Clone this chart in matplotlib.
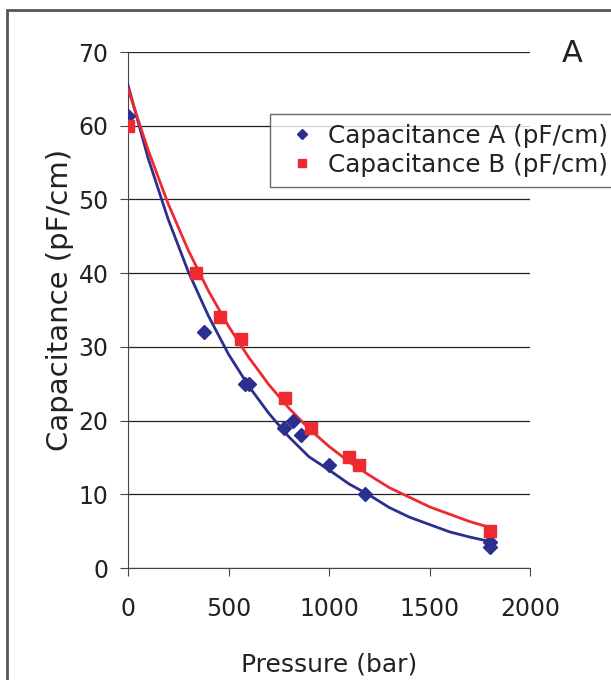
import matplotlib.pyplot as plt
from matplotlib.patches import Rectangle

# Measured points.
pressure_a = [0, 380, 580, 600, 775, 820, 860, 1000, 1180, 1800, 1800]
cap_a = [61.3, 32.0, 25.0, 25.0, 19.0, 20.0, 18.0, 14.0, 10.0, 3.5, 2.8]
pressure_b = [0, 340, 460, 560, 780, 910, 1100, 1150, 1800]
cap_b = [60.0, 40.0, 34.0, 31.0, 23.0, 19.0, 15.0, 14.0, 5.0]

# Trend lines.
fit_x = [0, 100, 200, 300, 400, 500, 600, 700, 800, 900,
         1000, 1100, 1200, 1300, 1400, 1500, 1600, 1700, 1800]
fit_a = [65.5, 55.6, 47.3, 40.2, 34.2, 29.0, 24.7, 21.0, 17.8, 15.1,
         13.3, 11.4, 9.9, 8.2, 6.9, 5.9, 4.9, 4.2, 3.6]
fit_b = [65.0, 56.7, 49.4, 43.1, 37.6, 32.8, 28.6, 24.9, 21.7, 18.9,
         16.5, 14.4, 12.6, 10.9, 9.6, 8.3, 7.3, 6.3, 5.5]

labels = ['Capacitance A (pF/cm)', 'Capacitance B (pF/cm)']
blue = '#2B2F8F'
red = '#ED2A2F'
text_col = '#222222'

fig = plt.figure(figsize=(6.11, 6.8), dpi=100)
ax = fig.add_axes([128/611, 1-568/680, (530-128)/611, (568-52)/680])

ax.plot(fit_x, fit_a, color=blue, lw=2.0, zorder=3)
ax.plot(fit_x, fit_b, color=red, lw=2.0, zorder=3)
ha, = ax.plot(pressure_a, cap_a, 'D', color=blue, ms=7, ls='none', zorder=4)
hb, = ax.plot(pressure_b, cap_b, 's', color=red, ms=8, ls='none', zorder=4)

ax.set_xlim(0, 2000)
ax.set_ylim(0, 70)
ax.set_xticks([0, 500, 1000, 1500, 2000])
ax.set_yticks(range(0, 71, 10))
ax.yaxis.grid(True, color='#222222', lw=0.9)
ax.set_axisbelow(True)
for s in ('top', 'right'):
    ax.spines[s].set_visible(False)
for s in ('left', 'bottom'):
    ax.spines[s].set_color('#444444')
ax.tick_params(direction='out', length=6, color='#444444', labelsize=17,
               labelcolor=text_col)
ax.tick_params(axis='x', pad=15)
ax.tick_params(axis='y', pad=8)
ax.set_xlabel('Pressure (bar)', fontsize=18, color=text_col)
ax.set_ylabel('Capacitance (pF/cm)', fontsize=21, color=text_col)
ax.xaxis.set_label_coords(0.5, -0.163)
ax.yaxis.set_label_coords(-0.135, 0.52)

leg = fig.legend([ha, hb], labels, loc='upper left', bbox_to_anchor=(270/611, 1-114/680),
                 fontsize=17.7, frameon=True, fancybox=False, edgecolor='#444444',
                 borderaxespad=0, labelspacing=0.2, handletextpad=0.15,
                 handlelength=1.8, markerscale=0.8, borderpad=0.4)
leg.get_frame().set_linewidth(1.0)
for t in leg.get_texts():
    t.set_color(text_col)

fig.text(572/611, 1-53/680, 'A', fontsize=22, ha='center', va='center', color=text_col)

fig.add_artist(Rectangle((7/611, -0.1), 2, 1.1 - 10/680, transform=fig.transFigure,
                         fill=False, ec='#555555', lw=2))

fig.savefig('out.png', dpi=100)
